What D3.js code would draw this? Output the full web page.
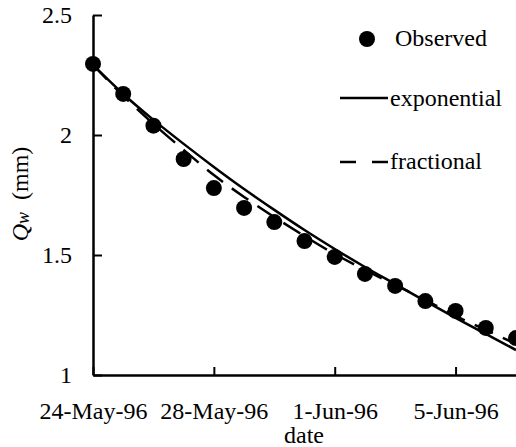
<!DOCTYPE html>
<html>
<head>
<meta charset="utf-8">
<script src="https://cdn.jsdelivr.net/npm/d3@7/dist/d3.min.js"></script>
<style>
    body { margin: 0; background: #fff; }
    svg { display: block; }
</style>
</head>
<body>
<div id="chart"></div>
<script>
// daily values
const dates = ['1996-05-24', '1996-05-25', '1996-05-26', '1996-05-27', '1996-05-28',
    '1996-05-29', '1996-05-30', '1996-05-31', '1996-06-01', '1996-06-02',
    '1996-06-03', '1996-06-04', '1996-06-05', '1996-06-06', '1996-06-07'];
const observed = [2.296, 2.171, 2.039, 1.900, 1.779, 1.696, 1.637, 1.558, 1.492, 1.421,
    1.371, 1.308, 1.267, 1.196, 1.154];
const exponential = [2.292, 2.171, 2.063, 1.963, 1.867, 1.775, 1.688, 1.604, 1.525, 1.450,
    1.379, 1.308, 1.238, 1.171, 1.104];
const fractional = [2.292, 2.163, 2.046, 1.938, 1.833, 1.742, 1.658, 1.579, 1.504, 1.438,
    1.375, 1.313, 1.246, 1.188, 1.129];
const xTicks = ['1996-05-24', '1996-05-28', '1996-06-01', '1996-06-05'];
const yTicks = [1, 1.5, 2, 2.5];
const legendLabels = ['Observed', 'exponential', 'fractional'];

const width = 516;
const height = 447;
const fontSize = 24;
const serif = "'Liberation Serif', 'DejaVu Serif', serif";

const svg = d3.select('#chart').append('svg')
    .attr('width', width)
    .attr('height', height)
    .style('font-family', serif);

const x = d3.scaleUtc()
    .domain([new Date('1996-05-24'), new Date('1996-06-07')])
    .range([93, 516]);

const y = d3.scaleLinear()
    .domain([1, 2.5])
    .range([375, 15]);

const rows = dates.map((d, i) => ({
    date: new Date(d),
    obs: observed[i],
    exp: exponential[i],
    frac: fractional[i]
}));

// fitted curves
const lineOf = (key) => d3.line()
    .x(d => x(d.date))
    .y(d => y(d[key]))
    .curve(d3.curveMonotoneX);

svg.append('path')
    .datum(rows)
    .attr('d', lineOf('frac'))
    .attr('fill', 'none')
    .attr('stroke', '#000')
    .attr('stroke-width', 2.5)
    .attr('stroke-dasharray', '20,11');

svg.append('path')
    .datum(rows)
    .attr('d', lineOf('exp'))
    .attr('fill', 'none')
    .attr('stroke', '#000')
    .attr('stroke-width', 2.5);

svg.append('g')
    .selectAll('circle')
    .data(rows)
    .enter()
    .append('circle')
    .attr('cx', d => x(d.date))
    .attr('cy', d => y(d.obs))
    .attr('r', 8)
    .attr('fill', '#000');

// axes
const xAxis = d3.axisBottom(x)
    .tickValues(xTicks.map(d => new Date(d)))
    .tickFormat(d3.utcFormat('%-d-%b-%y'))
    .tickSizeInner(-8)
    .tickSizeOuter(0)
    .tickPadding(27);

const yAxis = d3.axisLeft(y)
    .tickValues(yTicks)
    .tickFormat(d3.format('~g'))
    .tickSizeInner(-9)
    .tickSizeOuter(0)
    .tickPadding(21);

const gx = svg.append('g')
    .attr('transform', 'translate(0,375)')
    .call(xAxis);

const gy = svg.append('g')
    .attr('transform', 'translate(93,0)')
    .call(yAxis);

[gx, gy].forEach(g => {
    g.attr('font-family', null).attr('font-size', null);
    g.select('.domain').attr('stroke', '#000').attr('stroke-width', 2.5);
    g.selectAll('.tick line').attr('stroke', '#000').attr('stroke-width', 2);
    g.selectAll('.tick text').attr('fill', '#000')
        .style('font-family', serif)
        .style('font-size', fontSize + 'px');
});

// axis titles
svg.append('text')
    .attr('x', 304)
    .attr('y', 443)
    .attr('text-anchor', 'middle')
    .style('font-size', fontSize + 'px')
    .text('date');

const ylab = svg.append('text')
    .attr('transform', 'translate(28,194) rotate(-90)')
    .attr('text-anchor', 'middle')
    .style('font-size', fontSize + 'px');
ylab.append('tspan').style('font-style', 'italic').text('Q');
ylab.append('tspan').style('font-style', 'italic').style('font-size', '18px').attr('dy', 1).text('w');
ylab.append('tspan').attr('dy', -1).text('\u2002(mm)');

// legend
const legend = svg.append('g').attr('class', 'legend');

legend.append('circle')
    .attr('cx', 367)
    .attr('cy', 39)
    .attr('r', 8)
    .attr('fill', '#000');

legend.append('line')
    .attr('x1', 340).attr('x2', 388)
    .attr('y1', 98).attr('y2', 98)
    .attr('stroke', '#000')
    .attr('stroke-width', 2.5);

legend.append('line')
    .attr('x1', 340).attr('x2', 388)
    .attr('y1', 162).attr('y2', 162)
    .attr('stroke', '#000')
    .attr('stroke-width', 2.5)
    .attr('stroke-dasharray', '16,16');

legend.selectAll('text')
    .data(legendLabels)
    .enter()
    .append('text')
    .attr('x', (d, i) => i === 0 ? 395 : 390)
    .attr('y', (d, i) => [46, 106, 169][i])
    .style('font-size', fontSize + 'px')
    .text(d => d);
</script>
</body>
</html>
